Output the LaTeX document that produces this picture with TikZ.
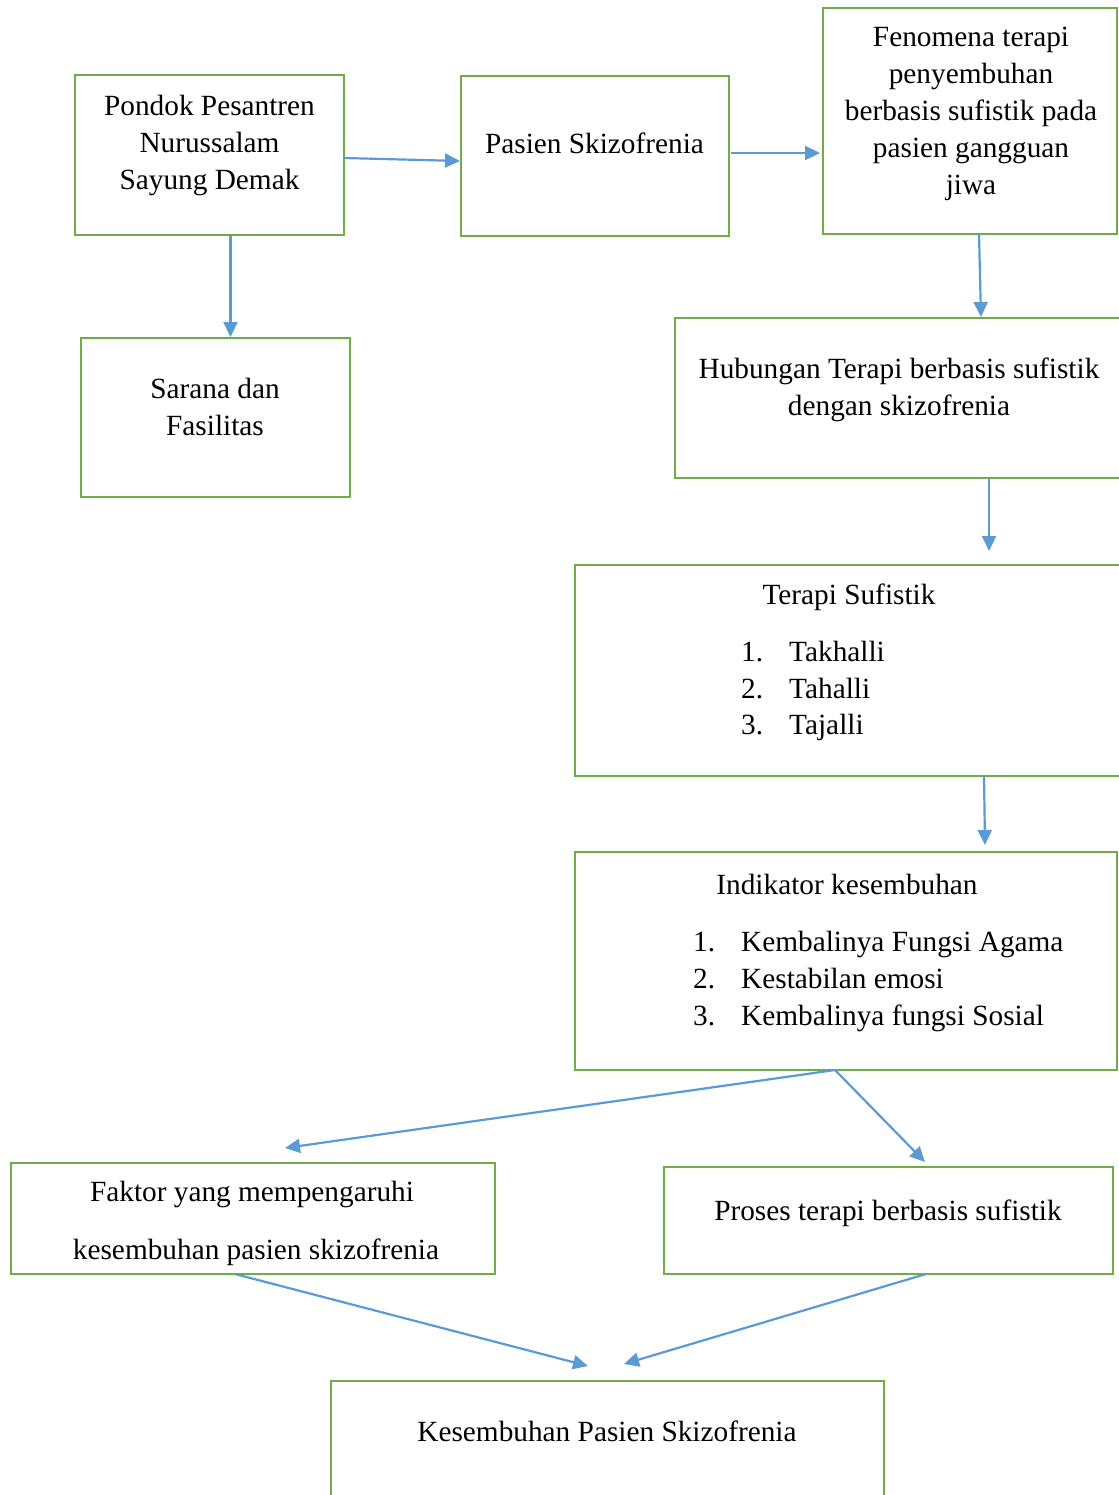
\documentclass[tikz,border=0pt]{standalone}
\usepackage{fontspec}
\setmainfont{Liberation Serif}
\usetikzlibrary{arrows.meta,calc}
\definecolor{boxgreen}{HTML}{70AD47}
\definecolor{arrblue}{HTML}{5B9BD5}
\tikzset{
  box/.style={draw=boxgreen, line width=2.7pt, rectangle, inner sep=0pt, outer sep=0pt, fill=none},
  txt/.style={inner sep=0pt, anchor=base, font=\fontsize{29.3}{37}\selectfont},
  txtl/.style={inner sep=0pt, anchor=base west, font=\fontsize{29.3}{37}\selectfont},
  arr/.style={draw=arrblue, line width=2.2pt, -{Triangle[length=15pt,width=14pt]}}
}
\begin{document}
\begin{tikzpicture}[x=1pt,y=-1pt]
\useasboundingbox[fill=white] (0,0) rectangle (1118,1495);
% boxes
\node[box, minimum width=269pt, minimum height=160pt] (pondok) at (209.5,155) {};
\node[box, minimum width=268pt, minimum height=160pt] (pasien) at (595,156) {};
\node[box, minimum width=294pt, minimum height=226pt] (fenomena) at (970,121) {};
\node[box, minimum width=269pt, minimum height=159pt] (sarana) at (215.5,417.5) {};
\node[box, minimum width=455pt, minimum height=160pt] (hubungan) at (902.5,398) {};
\node[box, minimum width=555pt, minimum height=211pt] (terapi) at (852.5,670.5) {};
\node[box, minimum width=542pt, minimum height=218pt] (indikator) at (846,961) {};
\node[box, minimum width=484pt, minimum height=111pt] (faktor) at (253,1218.5) {};
\node[box, minimum width=449pt, minimum height=107pt] (proses) at (888.5,1220.5) {};
\node[box, minimum width=553pt, minimum height=129pt] (kesembuhan) at (607.5,1445.5) {};
% texts
\node[txt] (t1a) at (209.5,116) {Pondok Pesantren};
\node[txt] (t1b) at (209.5,153) {Nurussalam};
\node[txt] (t1c) at (209.5,190) {Sayung Demak};
\node[txt] (t2) at (594.5,154) {Pasien Skizofrenia};
\node[txt] (t3a) at (971,47) {Fenomena terapi};
\node[txt] (t3b) at (971,84) {penyembuhan};
\node[txt] (t3c) at (971,121) {berbasis sufistik pada};
\node[txt] (t3d) at (971,158) {pasien gangguan};
\node[txt] (t3e) at (971,195) {jiwa};
\node[txt] (t4a) at (215,398) {Sarana dan};
\node[txt] (t4b) at (215,435) {Fasilitas};
\node[txt] (t5a) at (899,378) {Hubungan Terapi berbasis sufistik};
\node[txt] (t5b) at (899,415) {dengan skizofrenia};
\node[txt] (t6) at (849,604) {Terapi Sufistik};
\node[txtl] (t6n1) at (741,661) {1.};
\node[txtl] (t6i1) at (789,661) {Takhalli};
\node[txtl] (t6n2) at (741,698) {2.};
\node[txtl] (t6i2) at (789,698) {Tahalli};
\node[txtl] (t6n3) at (741,734) {3.};
\node[txtl] (t6i3) at (789,734) {Tajalli};
\node[txt] (t7) at (847,894) {Indikator kesembuhan};
\node[txtl] (t7n1) at (693,951) {1.};
\node[txtl] (t7i1) at (741,951) {Kembalinya Fungsi Agama};
\node[txtl] (t7n2) at (693,988) {2.};
\node[txtl] (t7i2) at (741,988) {Kestabilan emosi};
\node[txtl] (t7n3) at (693,1025) {3.};
\node[txtl] (t7i3) at (741,1025) {Kembalinya fungsi Sosial};
\node[txt] (t8a) at (252,1201) {Faktor yang mempengaruhi};
\node[txt] (t8b) at (256,1259) {kesembuhan pasien skizofrenia};
\node[txt] (t9) at (888,1220) {Proses terapi berbasis sufistik};
\node[txt] (t10) at (607,1441) {Kesembuhan Pasien Skizofrenia};
% free arrow ends
\coordinate (e1) at (989,551);
\coordinate (e2) at (985,845);
\coordinate (e3) at (285,1148);
\coordinate (e4) at (925,1162);
\coordinate (e5) at (588,1366);
\coordinate (e6) at (624,1364);
\coordinate (s1) at (835,1070);
% connectors
\draw[arr] ($(pondok.east)+(0,3)$) -- ($(pasien.west)+(-1,5)$);
\draw[arr] ($(pasien.east)+(2,-3)$) -- ($(fenomena.west)+(-3,32)$);
\draw[arr] ($(pondok.south)+(21,0)$) -- ($(sarana.north)+(15,-1)$);
\draw[arr] ($(fenomena.south)+(9,0)$) -- ($(hubungan.north)+(78.5,-1)$);
\draw[arr] ($(hubungan.south)+(86.5,0)$) -- (e1);
\draw[arr] ($(terapi.south)+(131.5,0)$) -- (e2);
\draw[arr] (s1) -- (e3);
\draw[arr] (s1) -- (e4);
\draw[arr] ($(faktor.south)+(-18,0)$) -- (e5);
\draw[arr] ($(proses.south)+(37.5,0)$) -- (e6);
\end{tikzpicture}
\end{document}
